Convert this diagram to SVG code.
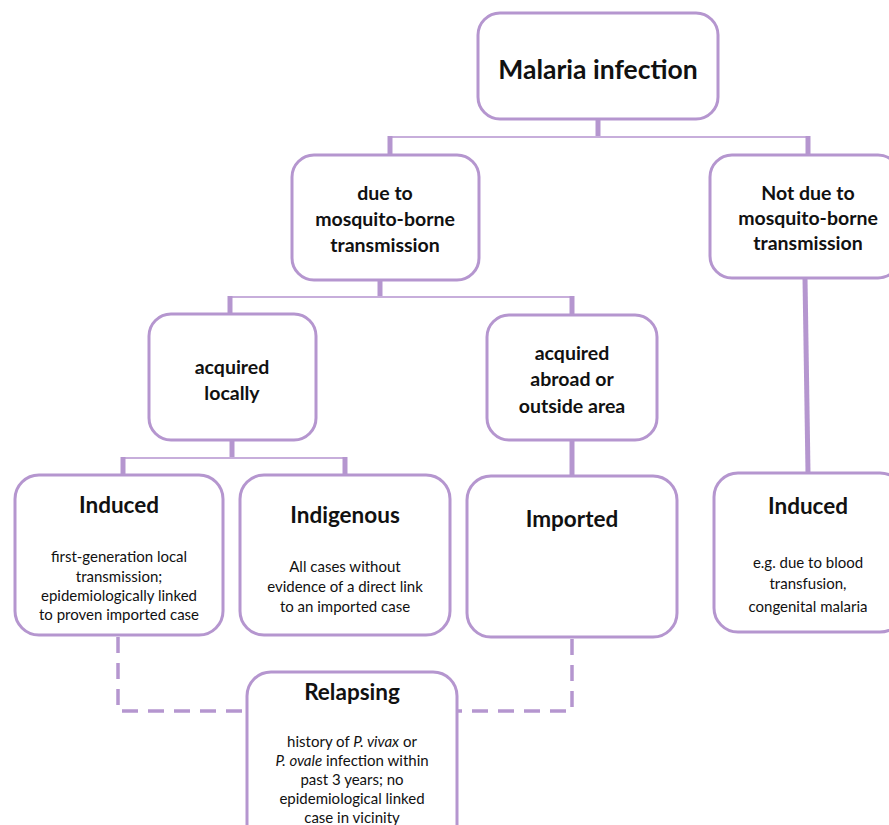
<svg xmlns="http://www.w3.org/2000/svg" width="889" height="825" viewBox="0 0 889 825">
<style>
.box{fill:#fff;stroke:#b596cf;stroke-width:3}
.thick{stroke:#b596cf;stroke-width:5;fill:none}
.thin{stroke:#c7aedb;stroke-width:2;fill:none}
.dash{stroke:#b596cf;stroke-width:3.5;fill:none;stroke-dasharray:16 10}
text{font-family:Lato,"Open Sans","Liberation Sans",sans-serif;fill:#111;text-anchor:middle}
.h0{font-size:26.5px;font-weight:700}
.h1{font-size:19.5px;font-weight:700}
.h2{font-size:22.5px;font-weight:700}
.s{font-size:15px}
</style>
<rect width="889" height="825" fill="#fff"/>
<g id="connectors">
<line class="thick" x1="598" y1="119" x2="598" y2="137"/>
<line class="thin" x1="390" y1="137" x2="808" y2="137"/>
<line class="thick" x1="390" y1="136" x2="390" y2="155"/>
<line class="thick" x1="808" y1="136" x2="808" y2="155"/>
<line class="thick" x1="380" y1="280" x2="380" y2="297"/>
<line class="thin" x1="230" y1="297" x2="572" y2="297"/>
<line class="thick" x1="230" y1="296" x2="230" y2="314"/>
<line class="thick" x1="572" y1="296" x2="572" y2="315"/>
<line class="thick" x1="572" y1="440" x2="572" y2="476"/>
<line class="thick" x1="805" y1="278" x2="808" y2="473"/>
<line class="thick" x1="232" y1="440" x2="232" y2="458"/>
<line class="thin" x1="123" y1="458" x2="345" y2="458"/>
<line class="thick" x1="123" y1="457" x2="123" y2="475"/>
<line class="thick" x1="345" y1="457" x2="345" y2="475"/>
<polyline class="dash" points="118,637 118,711 247,711"/>
<polyline class="dash" points="572,639 572,711 457,711"/>
</g>
<g id="malaria">
<rect class="box" x="478" y="13" width="240" height="106" rx="22"/>
<text class="h0" x="598" y="79">Malaria infection</text>
</g>
<g id="due">
<rect class="box" x="292" y="155" width="187" height="125" rx="22"/>
<text class="h1" x="385" y="200">due to</text>
<text class="h1" x="385" y="226">mosquito-borne</text>
<text class="h1" x="385" y="252">transmission</text>
</g>
<g id="notdue">
<rect class="box" x="710" y="155" width="190" height="123" rx="22"/>
<text class="h1" x="808" y="200">Not due to</text>
<text class="h1" x="808" y="225">mosquito-borne</text>
<text class="h1" x="808" y="250">transmission</text>
</g>
<g id="locally">
<rect class="box" x="149" y="314" width="167" height="126" rx="22"/>
<text class="h1" x="232" y="374">acquired</text>
<text class="h1" x="232" y="400">locally</text>
</g>
<g id="abroad">
<rect class="box" x="487" y="315" width="170" height="125" rx="22"/>
<text class="h1" x="572" y="360">acquired</text>
<text class="h1" x="572" y="386">abroad or</text>
<text class="h1" x="572" y="413">outside area</text>
</g>
<g id="induced-left">
<rect class="box" x="15" y="475" width="208" height="160" rx="24"/>
<text class="h2" x="119" y="513">Induced</text>
<text class="s" x="119" y="562">first-generation local</text>
<text class="s" x="119" y="582">transmission;</text>
<text class="s" x="119" y="601">epidemiologically linked</text>
<text class="s" x="119" y="620">to proven imported case</text>
</g>
<g id="indigenous">
<rect class="box" x="240" y="475" width="210" height="160" rx="24"/>
<text class="h2" x="345" y="523">Indigenous</text>
<text class="s" x="345" y="572">All cases without</text>
<text class="s" x="345" y="592">evidence of a direct link</text>
<text class="s" x="345" y="612">to an imported case</text>
</g>
<g id="imported">
<rect class="box" x="467" y="476" width="210" height="161" rx="24"/>
<text class="h2" x="572" y="527">Imported</text>
</g>
<g id="induced-right">
<rect class="box" x="714" y="473" width="190" height="159" rx="24"/>
<text class="h2" x="808" y="514">Induced</text>
<text class="s" x="808" y="568">e.g. due to blood</text>
<text class="s" x="808" y="589">transfusion,</text>
<text class="s" x="808" y="612">congenital malaria</text>
</g>
<g id="relapsing">
<rect class="box" x="247" y="672" width="210" height="190" rx="24"/>
<text class="h2" x="352" y="700">Relapsing</text>
<text class="s" x="352" y="747">history of <tspan font-style="italic">P. vivax</tspan> or</text>
<text class="s" x="352" y="766"><tspan font-style="italic">P. ovale</tspan> infection within</text>
<text class="s" x="352" y="785">past 3 years; no</text>
<text class="s" x="352" y="804">epidemiological linked</text>
<text class="s" x="352" y="823">case in vicinity</text>
</g>
</svg>
